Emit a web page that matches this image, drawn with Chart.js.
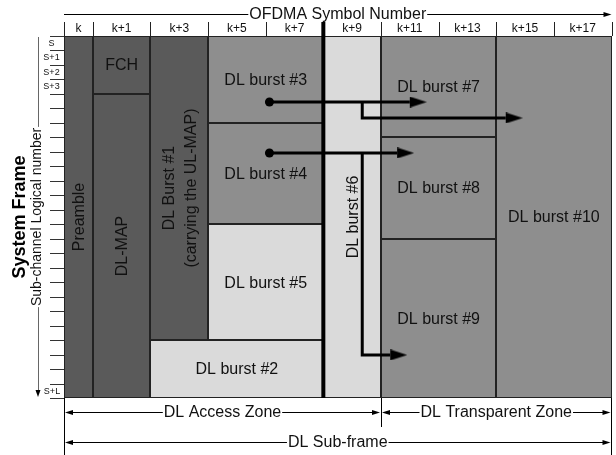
<!DOCTYPE html>
<html>
<head>
<meta charset="utf-8">
<script src="https://cdn.jsdelivr.net/npm/chart.js@4.4.0/dist/chart.umd.min.js"></script>
<style>
  html, body { margin: 0; padding: 0; background: #fff; }
  canvas { display: block; }
</style>
</head>
<body>
<canvas id="frameChart" width="616" height="455"></canvas>
<script>
// OFDMA symbol columns (header) and sub-channel rows
const symbolLabels = ['k', 'k+1', 'k+3', 'k+5', 'k+7', 'k+9', 'k+11', 'k+13', 'k+15', 'k+17'];
const symbolStarts = [0, 1, 3, 5, 7, 9, 11, 13, 15, 17];
const symbolCount = 19;
const subchannelLabels = ['S', 'S+1', 'S+2', 'S+3'];
const lastSubchannelLabel = 'S+L';
const subchannelCount = 25;

// bursts: symbol range (x) and sub-channel range (y)
const burstNames = ['Preamble', 'FCH', 'DL-MAP', 'DL Burst #1\n(carrying the UL-MAP)', 'DL burst #2',
    'DL burst #3', 'DL burst #4', 'DL burst #5', 'DL burst #6', 'DL burst #7', 'DL burst #8',
    'DL burst #9', 'DL burst #10'];
const burstSymFrom = [0, 1, 1, 3, 3, 5, 5, 5, 9, 11, 11, 11, 15];
const burstSymTo   = [1, 3, 3, 5, 9, 9, 9, 9, 11, 15, 15, 15, 19];
const burstSubFrom = [0, 0, 4, 0, 21, 0, 6, 13, 0, 0, 7, 14, 0];
const burstSubTo   = [25, 4, 25, 21, 25, 6, 13, 21, 25, 7, 14, 25, 25];
const burstKind = ['control', 'control', 'control', 'control', 'light', 'relay', 'relay', 'light',
    'light', 'relay', 'relay', 'relay', 'relay'];
const burstVertical = [true, false, true, true, false, false, false, false, true, false, false, false, false];

// relay arrows (symbol, sub-channel)
const arrowBurst3 = [{x: 7.13, y: 4.56}, {x: 12.0, y: 4.56}];
const arrowBurst3Branch = [{x: 10.35, y: 4.56}, {x: 10.35, y: 5.66}, {x: 15.33, y: 5.66}];
const arrowBurst4 = [{x: 7.13, y: 8.08}, {x: 11.56, y: 8.08}];
const arrowBurst4Branch = [{x: 10.35, y: 8.08}, {x: 10.35, y: 22.03}, {x: 11.32, y: 22.03}];
const splitSymbol = 9;

// zones under the frame
const zoneNames = ['DL Access Zone', 'DL Transparent Zone', 'DL Sub-frame'];
const zoneFrom = [0, 11, 0];
const zoneTo = [11, 19, 19];
const zoneLevel = [0, 0, 1];

const FONT = '"Liberation Sans", Arial, sans-serif';
const kindColors = { control: '#5a5a5a', relay: '#8e8e8e', light: '#dadada' };

function arrowHead(ctx, x, y, angle, len, half) {
    ctx.save();
    ctx.translate(x, y);
    ctx.rotate(angle);
    ctx.beginPath();
    ctx.moveTo(0, 0);
    ctx.lineTo(-len, -half);
    ctx.lineTo(-len, half);
    ctx.closePath();
    ctx.fill();
    ctx.restore();
}

function hLine(ctx, x0, x1, y) {
    ctx.beginPath();
    ctx.moveTo(x0, Math.round(y) + 0.5);
    ctx.lineTo(x1, Math.round(y) + 0.5);
    ctx.stroke();
}

function vLine(ctx, x, y0, y1) {
    ctx.beginPath();
    ctx.moveTo(Math.round(x) + 0.5, y0);
    ctx.lineTo(Math.round(x) + 0.5, y1);
    ctx.stroke();
}

// text sitting on a line, with a white gap behind it
function gapText(ctx, text, cx, cy, font) {
    ctx.font = font;
    const w = ctx.measureText(text).width;
    ctx.fillStyle = '#fff';
    ctx.fillRect(cx - w / 2 - 1, cy - 8, w + 2, 16);
    ctx.fillStyle = '#111';
    ctx.textAlign = 'center';
    ctx.textBaseline = 'middle';
    ctx.fillText(text, cx, cy + 1);
}

function makeArrowImage() {
    const c = document.createElement('canvas');
    c.width = 34;
    c.height = 11;
    const g = c.getContext('2d');
    g.fillStyle = '#000';
    g.beginPath();
    g.moveTo(17, 0);
    g.lineTo(34, 5.5);
    g.lineTo(17, 11);
    g.closePath();
    g.fill();
    return c;
}
const arrowImg = makeArrowImage();

function arrowDataset(points, withDot) {
    const last = points.length - 1;
    return {
        data: points,
        showLine: true,
        borderColor: '#000',
        backgroundColor: '#000',
        borderWidth: 3,
        borderJoinStyle: 'miter',
        pointStyle: points.map((p, i) => i === last ? arrowImg : 'circle'),
        pointRadius: points.map((p, i) => i === last ? 1 : (i === 0 && withDot ? 4.5 : 0)),
        pointBorderWidth: 0,
        clip: false
    };
}

const frameLayout = {
    id: 'frameLayout',
    beforeDatasetsDraw(chart) {
        const { ctx, scales: { x, y } } = chart;
        ctx.save();
        // burst blocks
        burstNames.forEach((name, i) => {
            const x0 = Math.round(x.getPixelForValue(burstSymFrom[i]));
            const x1 = Math.round(x.getPixelForValue(burstSymTo[i]));
            const y0 = Math.round(y.getPixelForValue(burstSubFrom[i]));
            const y1 = Math.round(y.getPixelForValue(burstSubTo[i]));
            ctx.fillStyle = kindColors[burstKind[i]];
            ctx.fillRect(x0, y0, x1 - x0, y1 - y0);
        });
        ctx.strokeStyle = '#222';
        ctx.lineWidth = 1;
        burstNames.forEach((name, i) => {
            const x0 = Math.round(x.getPixelForValue(burstSymFrom[i])) + 0.5;
            const x1 = Math.round(x.getPixelForValue(burstSymTo[i])) - 0.5;
            const y0 = Math.round(y.getPixelForValue(burstSubFrom[i])) + 0.5;
            const y1 = Math.round(y.getPixelForValue(burstSubTo[i])) - 0.5;
            ctx.strokeRect(x0, y0, x1 - x0, y1 - y0);
        });
        // burst labels
        ctx.fillStyle = '#111';
        ctx.font = '16px ' + FONT;
        ctx.textAlign = 'center';
        ctx.textBaseline = 'middle';
        burstNames.forEach((name, i) => {
            const cx = x.getPixelForValue((burstSymFrom[i] + burstSymTo[i]) / 2);
            const cy = y.getPixelForValue((burstSubFrom[i] + burstSubTo[i]) / 2);
            const lines = name.split('\n');
            ctx.save();
            ctx.translate(cx, cy);
            if (burstVertical[i]) ctx.rotate(-Math.PI / 2);
            lines.forEach((ln, j) => {
                ctx.fillText(ln, 0, (j - (lines.length - 1) / 2) * 22 + 1);
            });
            ctx.restore();
        });
        ctx.restore();
    },
    afterDraw(chart) {
        const { ctx, chartArea: area, scales: { x, y } } = chart;
        ctx.save();
        ctx.strokeStyle = '#000';
        ctx.fillStyle = '#000';
        ctx.lineWidth = 1;

        // header: symbol numbers
        ctx.strokeStyle = '#222';
        symbolStarts.concat([symbolCount]).forEach(s => {
            if (s === splitSymbol) return;
            vLine(ctx, x.getPixelForValue(s), area.top - 14, area.top);
        });
        ctx.fillStyle = '#111';
        ctx.font = '12px ' + FONT;
        ctx.textAlign = 'center';
        ctx.textBaseline = 'middle';
        symbolLabels.forEach((lab, i) => {
            const to = i + 1 < symbolStarts.length ? symbolStarts[i + 1] : symbolCount;
            ctx.fillText(lab, x.getPixelForValue((symbolStarts[i] + to) / 2), area.top - 7);
        });

        // top title with arrow
        ctx.strokeStyle = '#000';
        ctx.fillStyle = '#000';
        hLine(ctx, area.left, area.right - 4, 14);
        arrowHead(ctx, area.right, 14.5, 0, 8, 2.5);
        gapText(ctx, 'OFDMA Symbol Number', (area.left + area.right) / 2, 14, '16px ' + FONT);

        // sub-channel ticks and labels
        ctx.strokeStyle = '#333';
        for (let r = 0; r <= subchannelCount; r++) {
            hLine(ctx, area.left - 14, area.left, y.getPixelForValue(r));
        }
        ctx.fillStyle = '#111';
        ctx.font = '9px ' + FONT;
        ctx.textAlign = 'center';
        ctx.textBaseline = 'middle';
        subchannelLabels.forEach((lab, r) => {
            ctx.fillText(lab, area.left - 12.5, y.getPixelForValue(r + 0.5));
        });
        ctx.fillText(lastSubchannelLabel, area.left - 12, y.getPixelForValue(subchannelCount - 0.5) + 1);

        // left axis: line with arrow, titles
        const midY = (area.top + area.bottom) / 2;
        ctx.strokeStyle = '#666';
        vLine(ctx, 37.5, area.top + 1, area.bottom - 6);
        ctx.fillStyle = '#000';
        arrowHead(ctx, 38, area.bottom - 1, Math.PI / 2, 7, 2.5);
        ctx.save();
        ctx.translate(37, midY);
        ctx.rotate(-Math.PI / 2);
        gapText(ctx, 'Sub-channel Logical number', 0, -1, '14px ' + FONT);
        ctx.restore();
        ctx.save();
        ctx.translate(19, midY);
        ctx.rotate(-Math.PI / 2);
        ctx.fillStyle = '#000';
        ctx.font = 'bold 18px ' + FONT;
        ctx.textAlign = 'center';
        ctx.textBaseline = 'middle';
        ctx.fillText('System Frame', 0, 1);
        ctx.restore();

        // zones
        ctx.strokeStyle = '#000';
        vLine(ctx, x.getPixelForValue(0), area.bottom, chart.height);
        vLine(ctx, x.getPixelForValue(11), area.bottom, area.bottom + 29);
        vLine(ctx, x.getPixelForValue(symbolCount) - 1, area.bottom, chart.height);
        zoneNames.forEach((name, i) => {
            const zy = area.bottom + 14 + zoneLevel[i] * 30;
            const x0 = x.getPixelForValue(zoneFrom[i]) + 1;
            const x1 = x.getPixelForValue(zoneTo[i]) - 1;
            ctx.strokeStyle = '#000';
            hLine(ctx, x0 + 4, x1 - 4, zy);
            ctx.fillStyle = '#000';
            arrowHead(ctx, x0, zy + 0.5, Math.PI, 8, 2.5);
            arrowHead(ctx, x1, zy + 0.5, 0, 8, 2.5);
            gapText(ctx, name, (x0 + x1) / 2, zy, '16px ' + FONT);
        });
        ctx.restore();
    }
};

new Chart(document.getElementById('frameChart'), {
    type: 'scatter',
    data: {
        datasets: [
            arrowDataset(arrowBurst3, true),
            arrowDataset(arrowBurst3Branch, false),
            arrowDataset(arrowBurst4, true),
            arrowDataset(arrowBurst4Branch, false),
            {
                // boundary between the relayed and the transparent bursts
                data: [{x: splitSymbol, y: -1}, {x: splitSymbol, y: subchannelCount}],
                showLine: true,
                borderColor: '#000',
                borderWidth: 4,
                pointRadius: 0,
                clip: false
            }
        ]
    },
    options: {
        responsive: false,
        animation: false,
        layout: { padding: { left: 64, right: 3, top: 36, bottom: 57 } },
        scales: {
            x: { type: 'linear', min: 0, max: symbolCount, display: false },
            y: { type: 'linear', min: 0, max: subchannelCount, reverse: true, display: false }
        },
        plugins: {
            legend: { display: false },
            tooltip: { enabled: false }
        }
    },
    plugins: [frameLayout]
});
</script>
</body>
</html>
